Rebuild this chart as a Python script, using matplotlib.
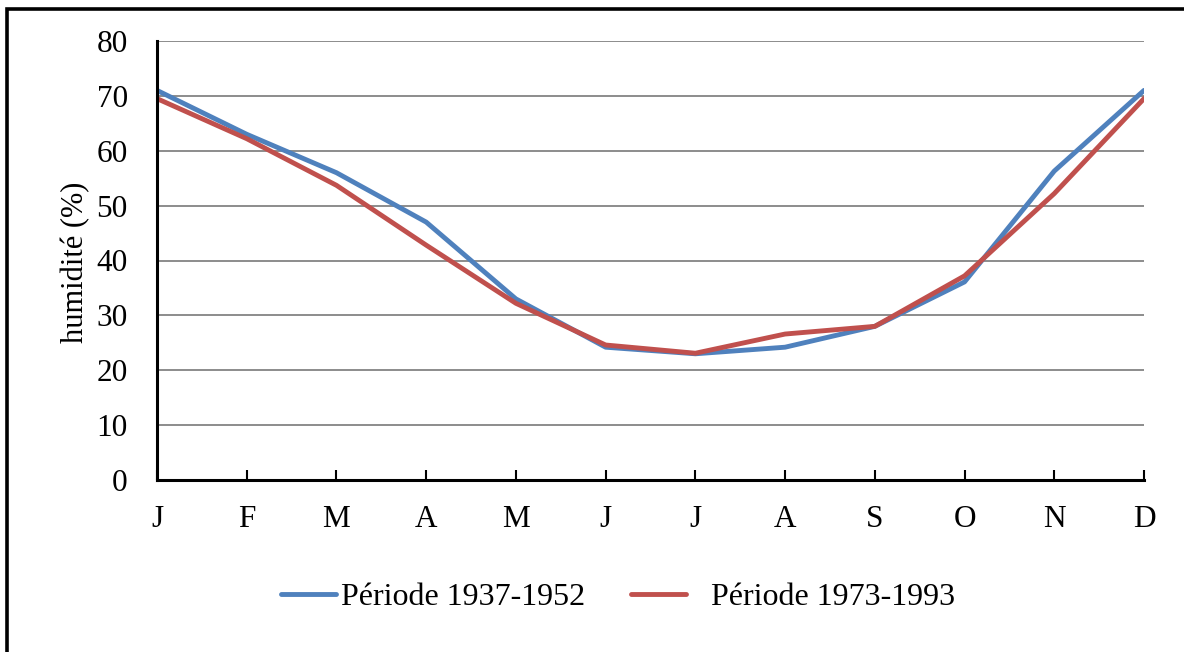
import matplotlib
matplotlib.use("Agg")
import matplotlib.pyplot as plt
from matplotlib.patches import Rectangle

months = ["J", "F", "M", "A", "M", "J", "J", "A", "S", "O", "N", "D"]
p1_label = "Période 1937-1952"
p2_label = "Période 1973-1993"
p1_values = [71.0, 63.0, 56.0, 47.0, 33.0, 24.2, 23.0, 24.2, 28.0, 36.1, 56.3, 71.0]
p2_values = [69.5, 62.2, 53.7, 42.8, 32.2, 24.6, 23.1, 26.6, 28.0, 37.2, 52.2, 69.5]
yticks = [0, 10, 20, 30, 40, 50, 60, 70, 80]

plt.rcParams['font.family'] = ['Liberation Serif', 'DejaVu Serif']

W, H = 1184, 652
fig = plt.figure(figsize=(W / 100, H / 100), dpi=100)
fig.patch.set_facecolor("white")

# outer border (top and left edges visible)
fig.patches.append(Rectangle((7 / W, -0.2), 1.5, 1.2 - 9 / H,
                             transform=fig.transFigure, fill=False,
                             edgecolor="black", linewidth=2.6))

ax = fig.add_axes([157 / W, 1 - 480 / H, (1144 - 157) / W, (480 - 41) / H])
x = list(range(len(months)))

blue = "#4F81BD"
red = "#C0504D"
l1, = ax.plot(x, p1_values, color=blue, linewidth=3.5, solid_joinstyle="round",
              solid_capstyle="round", zorder=3)
l2, = ax.plot(x, p2_values, color=red, linewidth=3.5, solid_joinstyle="round",
              solid_capstyle="round", zorder=4)

ax.set_xlim(0, 11)
ax.set_ylim(0, 80)
ax.set_yticks(yticks)
ax.set_xticks(x)
ax.set_xticklabels(months)
ax.yaxis.grid(True, color="#8C8C8C", linewidth=1.4)
ax.set_axisbelow(True)
for s in ["top", "right"]:
    ax.spines[s].set_visible(False)
for s in ["left", "bottom"]:
    ax.spines[s].set_color("black")
    ax.spines[s].set_linewidth(2.2)
    ax.spines[s].set_zorder(5)

fs = 22.5
ax.tick_params(axis="x", direction="in", length=7.5, width=1.5, color="black",
               labelsize=fs, pad=18)
ax.tick_params(axis="y", length=0, labelsize=fs, pad=21)
ax.set_ylabel("humidité (%)", fontsize=22)
ax.yaxis.set_label_coords(-0.068, 0.497)

lfs = 23
leg1 = fig.legend(handles=[l1], labels=[p1_label], loc="center left",
                  bbox_to_anchor=(281 / W, 1 - 597 / H), frameon=False,
                  fontsize=lfs, handlelength=1.72, handletextpad=0.17,
                  borderpad=0, borderaxespad=0)
leg2 = fig.legend(handles=[l2], labels=[p2_label], loc="center left",
                  bbox_to_anchor=(631 / W, 1 - 597 / H), frameon=False,
                  fontsize=lfs, handlelength=1.72, handletextpad=0.78,
                  borderpad=0, borderaxespad=0)

fig.savefig("out.png", dpi=100, facecolor="white")
